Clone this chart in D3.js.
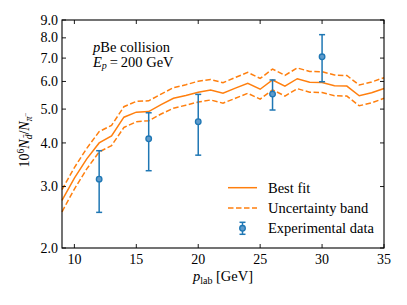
<!DOCTYPE html>
<html><head><meta charset="utf-8">
<script src="https://cdn.jsdelivr.net/npm/d3@7"></script>
<style>
body{margin:0;background:#fff;}
svg{display:block;}
svg text{font-family:'Liberation Serif','Times New Roman','DejaVu Serif',serif;}
</style></head>
<body>
<svg id="c" width="407" height="305" font-family="Liberation Serif, DejaVu Serif, serif"></svg>
<script>
// ---- data ----
const pLab = [9,10,11,12,13,14,15,16,17,18,19,20,21,22,23,24,25,26,27,28,29,30,31,32,33,34,35];
const bestFit = [2.74,3.17,3.60,4.00,4.19,4.74,4.90,4.92,5.15,5.37,5.47,5.59,5.67,5.55,5.74,5.93,5.70,6.06,5.82,6.11,5.97,5.96,5.83,5.82,5.46,5.57,5.73];
const bandUpper = [2.94,3.40,3.86,4.31,4.49,5.08,5.26,5.28,5.52,5.76,5.87,6.01,6.08,5.95,6.16,6.37,6.12,6.51,6.25,6.56,6.41,6.40,6.26,6.24,5.86,5.98,6.15];
const bandLower = [2.54,2.95,3.37,3.77,3.93,4.43,4.60,4.63,4.84,5.03,5.13,5.24,5.31,5.20,5.37,5.55,5.34,5.68,5.45,5.72,5.59,5.58,5.46,5.45,5.11,5.21,5.37];
const expP = [12,16,20,26,30];
const expVal = [3.15,4.11,4.60,5.52,7.06];
const expHi = [3.80,4.88,5.51,6.06,8.17];
const expLo = [2.53,3.33,3.69,4.97,5.99];
const xTicks = [10,15,20,25,30,35];
const yTicks = [2,3,4,5,6,7,8,9];

// ---- layout ----
const L=62, R=384, T=20, B=248;
const svg = d3.select("#c");
const x = d3.scaleLinear().domain([9,35]).range([L,R]);
const y = d3.scaleLog().domain([2,9]).range([B,T]);
const orange="#ff7f0e", blue="#1f77b4";

const line = d3.line().x((d,i)=>x(pLab[i])).y(d=>y(d));
const g = svg.append("g");
g.append("path").datum(bandUpper).attr("d",line).attr("fill","none").attr("stroke",orange).attr("stroke-width",1.5).attr("stroke-dasharray","5.5,2.5");
g.append("path").datum(bandLower).attr("d",line).attr("fill","none").attr("stroke",orange).attr("stroke-width",1.5).attr("stroke-dasharray","5.5,2.5");
g.append("path").datum(bestFit).attr("d",line).attr("fill","none").attr("stroke",orange).attr("stroke-width",1.5);

// error bars
const eb = svg.append("g");
expP.forEach((p,i)=>{
  const cx=x(p);
  eb.append("line").attr("x1",cx).attr("x2",cx).attr("y1",y(expLo[i])).attr("y2",y(expHi[i])).attr("stroke",blue).attr("stroke-width",1.5);
  [expLo[i],expHi[i]].forEach(v=>{
    eb.append("line").attr("x1",cx-3).attr("x2",cx+3).attr("y1",y(v)).attr("y2",y(v)).attr("stroke",blue).attr("stroke-width",1.5);
  });
  eb.append("circle").attr("cx",cx).attr("cy",y(expVal[i])).attr("r",2.8).attr("fill","#5f9bcb").attr("stroke",blue).attr("stroke-width",1.3);
});

// axes (inward ticks, all sides)
const tl=4;
const ax = svg.append("g").attr("font-size","14px").attr("fill","#000");
xTicks.forEach(t=>{
  ax.append("line").attr("x1",x(t)).attr("x2",x(t)).attr("y1",B).attr("y2",B-tl).attr("stroke","#000").attr("stroke-width",0.9);
  ax.append("line").attr("x1",x(t)).attr("x2",x(t)).attr("y1",T).attr("y2",T+tl).attr("stroke","#000").attr("stroke-width",0.9);
  ax.append("text").attr("x",x(t)).attr("y",B+15.5).attr("text-anchor","middle").text(t);
});
yTicks.forEach(t=>{
  ax.append("line").attr("x1",L).attr("x2",L+tl).attr("y1",y(t)).attr("y2",y(t)).attr("stroke","#000").attr("stroke-width",0.9);
  ax.append("line").attr("x1",R).attr("x2",R-tl).attr("y1",y(t)).attr("y2",y(t)).attr("stroke","#000").attr("stroke-width",0.9);
  ax.append("text").attr("x",L-4).attr("y",y(t)+4.6).attr("text-anchor","end").text(t.toFixed(1));
});
svg.append("rect").attr("x",L).attr("y",T).attr("width",R-L).attr("height",B-T).attr("fill","none").attr("stroke","#000").attr("stroke-width",1.1);

// x label
const xl = svg.append("text").attr("x",(L+R)/2).attr("y",281).attr("text-anchor","middle").attr("font-size","14.5px");
xl.append("tspan").attr("font-style","italic").text("p");
xl.append("tspan").attr("font-size","10px").attr("dy",2.5).text("lab");
xl.append("tspan").attr("dy",-2.5).text(" [GeV]");

// y label
const yl = svg.append("text").attr("transform","translate(29,140) rotate(-90)").attr("text-anchor","middle").attr("font-size","14px");
yl.append("tspan").text("10");
yl.append("tspan").attr("font-size","9.5px").attr("dy",-5).text("6");
yl.append("tspan").attr("font-style","italic").attr("dy",5).text("N");
yl.append("tspan").attr("font-style","italic").attr("font-size","9.5px").attr("dy",2.5).text("d\u0304");
yl.append("tspan").attr("dy",-2.5).text("/");
yl.append("tspan").attr("font-style","italic").text("N");
yl.append("tspan").attr("font-style","italic").attr("font-size","9.5px").attr("dy",2.5).text("\u03C0");
yl.append("tspan").attr("font-size","7px").attr("dy",-4).text("\u2212");

// annotation
const a1 = svg.append("text").attr("x",93).attr("y",52).attr("font-size","14.5px");
a1.append("tspan").attr("font-style","italic").text("p");
a1.append("tspan").text("Be collision");
const a2 = svg.append("text").attr("x",93).attr("y",66.5).attr("font-size","14.5px");
a2.append("tspan").attr("font-style","italic").text("E");
a2.append("tspan").attr("font-style","italic").attr("font-size","10px").attr("dy",2.5).text("p");
a2.append("tspan").attr("dy",-2.5).text("\u2009=\u2009200 GeV");

// legend
const lg = svg.append("g").attr("font-size","14.5px");
const rows=[187.7,208,228.3];
lg.append("line").attr("x1",228).attr("x2",257).attr("y1",rows[0]).attr("y2",rows[0]).attr("stroke",orange).attr("stroke-width",1.5);
lg.append("line").attr("x1",228).attr("x2",257).attr("y1",rows[1]).attr("y2",rows[1]).attr("stroke",orange).attr("stroke-width",1.5).attr("stroke-dasharray","5.5,2.5");
lg.append("line").attr("x1",242.5).attr("x2",242.5).attr("y1",rows[2]-6).attr("y2",rows[2]+6).attr("stroke",blue).attr("stroke-width",1.5);
[rows[2]-6,rows[2]+6].forEach(v=>lg.append("line").attr("x1",239.5).attr("x2",245.5).attr("y1",v).attr("y2",v).attr("stroke",blue).attr("stroke-width",1.5));
lg.append("circle").attr("cx",242.5).attr("cy",rows[2]).attr("r",2.8).attr("fill","#5f9bcb").attr("stroke",blue).attr("stroke-width",1.3);
["Best fit","Uncertainty band","Experimental data"].forEach((t,i)=>lg.append("text").attr("x",268).attr("y",rows[i]+4.8).text(t));
</script>
</body></html>
